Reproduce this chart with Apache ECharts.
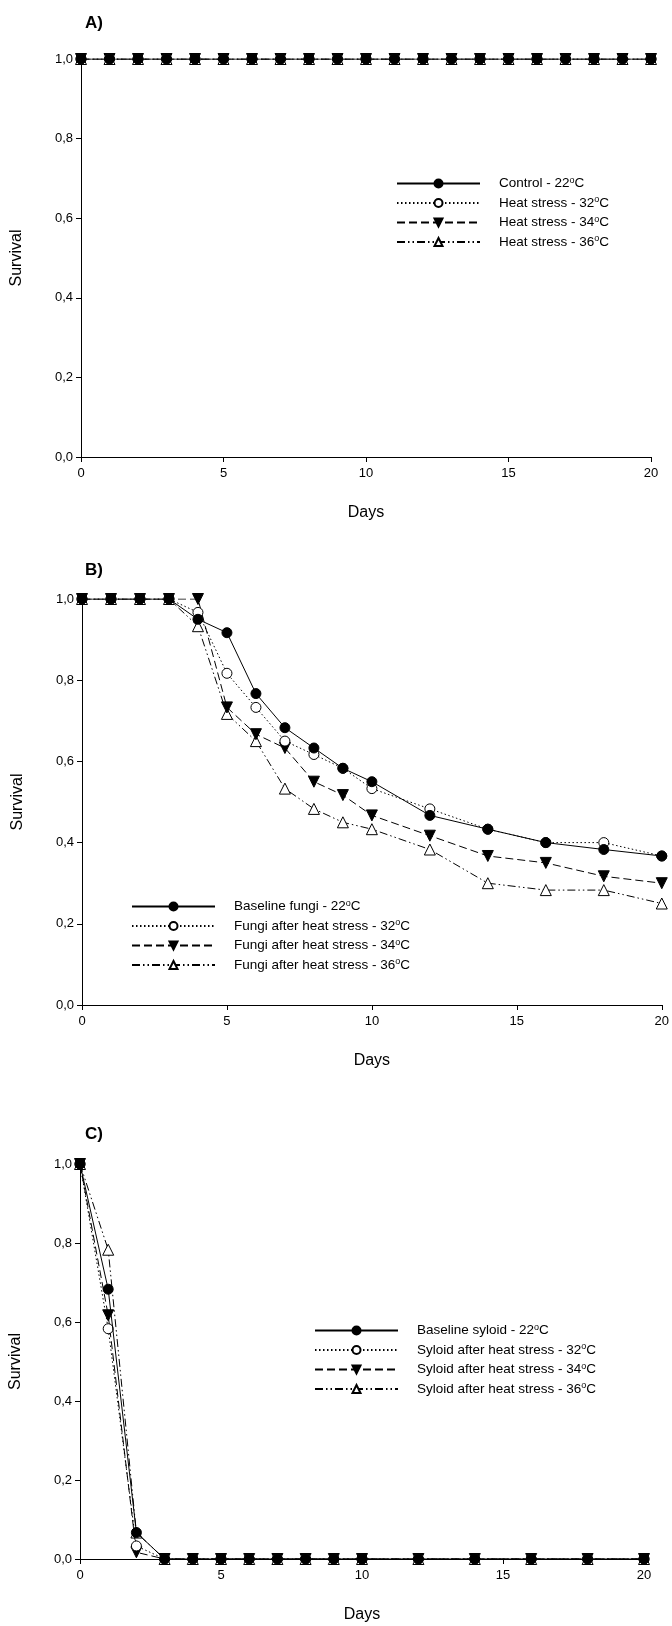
<!DOCTYPE html>
<html><head><meta charset="utf-8">
<script src="https://cdn.jsdelivr.net/npm/echarts@6/dist/echarts.min.js"></script>
<style>body{margin:0}#main{width:672px;height:1626px}</style>
</head><body><div id="main"></div>
<script>
var daysA = [0,1,2,3,4,5,6,7,8,9,10,11,12,13,14,15,16,17,18,19,20];
var daysBC = [0,1,2,3,4,5,6,7,8,9,10,12,14,16,18,20];

var a22 = [1,1,1,1,1,1,1,1,1,1,1,1,1,1,1,1,1,1,1,1,1];
var a32 = [1,1,1,1,1,1,1,1,1,1,1,1,1,1,1,1,1,1,1,1,1];
var a34 = [1,1,1,1,1,1,1,1,1,1,1,1,1,1,1,1,1,1,1,1,1];
var a36 = [1,1,1,1,1,1,1,1,1,1,1,1,1,1,1,1,1,1,1,1,1];

var b22 = [1,1,1,1,0.95,0.917,0.767,0.683,0.633,0.583,0.55,0.467,0.433,0.40,0.383,0.367];
var b32 = [1,1,1,1,0.967,0.817,0.733,0.65,0.617,0.583,0.533,0.483,0.433,0.40,0.40,0.367];
var b34 = [1,1,1,1,1,0.733,0.667,0.633,0.55,0.517,0.467,0.417,0.367,0.35,0.317,0.30];
var b36 = [1,1,1,1,0.933,0.717,0.65,0.533,0.483,0.45,0.433,0.383,0.30,0.283,0.283,0.25];

var c22 = [1,0.683,0.067,0,0,0,0,0,0,0,0,0,0,0,0,0];
var c32 = [1,0.583,0.033,0,0,0,0,0,0,0,0,0,0,0,0,0];
var c34 = [1,0.617,0.017,0,0,0,0,0,0,0,0,0,0,0,0,0];
var c36 = [1,0.783,0.067,0,0,0,0,0,0,0,0,0,0,0,0,0];

var namesA = ['Control - 22', 'Heat stress - 32', 'Heat stress - 34', 'Heat stress - 36'];
var namesB = ['Baseline fungi - 22', 'Fungi after heat stress - 32', 'Fungi after heat stress - 34', 'Fungi after heat stress - 36'];
var namesC = ['Baseline syloid - 22', 'Syloid after heat stress - 32', 'Syloid after heat stress - 34', 'Syloid after heat stress - 36'];

var styles = [
  {symbol: 'circle', rot: 0, fill: '#000', dash: 'solid'},
  {symbol: 'circle', rot: 0, fill: '#fff', dash: [1.5, 2.5]},
  {symbol: 'triangle', rot: 180, fill: '#000', dash: [8, 4]},
  {symbol: 'triangle', rot: 0, fill: '#fff', dash: [8, 3, 1.5, 3, 1.5, 3]}
];

var font = 'Liberation Sans, Arial, sans-serif';
var grids = [
  {left: 81, top: 59, width: 570, height: 398},
  {left: 82, top: 599, width: 581, height: 406},
  {left: 80, top: 1164, width: 564, height: 395}
];

function mkSeries(gi, xs, sets, names) {
  return sets.map(function (vals, k) {
    var s = styles[k];
    return {
      name: names[k], type: 'line', xAxisIndex: gi, yAxisIndex: gi,
      data: xs.map(function (x, i) { return [x, vals[i]]; }),
      symbol: s.symbol, symbolRotate: s.rot, symbolSize: k < 2 ? 10 : 11,
      lineStyle: {color: '#000', width: 1, type: s.dash},
      itemStyle: {color: s.fill, borderColor: '#000', borderWidth: 1},
      emphasis: {disabled: true}, z: 10 - k
    };
  });
}

var xAxes = grids.map(function (g, i) {
  return {
    type: 'value', gridIndex: i, min: 0, max: 20, interval: 5,
    name: 'Days', nameLocation: 'middle', nameGap: 48,
    nameTextStyle: {color: '#000', fontSize: 16, fontFamily: font},
    axisLine: {show: true, onZero: false, lineStyle: {color: '#000'}},
    axisTick: {show: true, length: 5, lineStyle: {color: '#000'}},
    axisLabel: {color: '#000', fontSize: 13, fontFamily: font, margin: 10},
    splitLine: {show: false}
  };
});
var yAxes = grids.map(function (g, i) {
  return {
    type: 'value', gridIndex: i, min: 0, max: 1, interval: 0.2,
    name: 'Survival', nameLocation: 'middle', nameGap: 56, nameRotate: 90,
    nameTextStyle: {color: '#000', fontSize: 16, fontFamily: font},
    axisLine: {show: true, lineStyle: {color: '#000'}},
    axisTick: {show: true, length: 5, lineStyle: {color: '#000'}},
    axisLabel: {color: '#000', fontSize: 13, fontFamily: font,
      formatter: function (v) { return v.toFixed(1).replace('.', ','); }},
    splitLine: {show: false}
  };
});

function mkLegend(names, left, top) {
  return {
    data: names, left: left, top: top, orient: 'vertical', itemGap: 5,
    itemWidth: 83, itemHeight: 10, selectedMode: false,
    formatter: function (n) { return '{a|' + n + '}{s|o}{a|C}'; },
    textStyle: {color: '#000', fontFamily: font, padding: [0, 0, 0, 14],
      rich: {a: {fontSize: 13.5, fontFamily: font, color: '#000'},
             s: {fontSize: 9, fontFamily: font, color: '#000', verticalAlign: 'top', padding: [0, 0, 6, 0]}}}
  };
}

var myChart = echarts.init(document.getElementById('main'));
myChart.setOption({
  animation: false,
  title: [
    {text: 'A)', left: 80, top: 10, textStyle: {fontSize: 17, fontWeight: 'bold', fontFamily: font, color: '#000'}},
    {text: 'B)', left: 80, top: 557, textStyle: {fontSize: 17, fontWeight: 'bold', fontFamily: font, color: '#000'}},
    {text: 'C)', left: 80, top: 1121, textStyle: {fontSize: 17, fontWeight: 'bold', fontFamily: font, color: '#000'}}
  ],
  grid: grids,
  xAxis: xAxes,
  yAxis: yAxes,
  legend: [mkLegend(namesA, 391, 171), mkLegend(namesB, 126, 894), mkLegend(namesC, 309, 1318)],
  series: [].concat(
    mkSeries(0, daysA, [a22, a32, a34, a36], namesA),
    mkSeries(1, daysBC, [b22, b32, b34, b36], namesB),
    mkSeries(2, daysBC, [c22, c32, c34, c36], namesC)
  )
});
</script></body></html>
